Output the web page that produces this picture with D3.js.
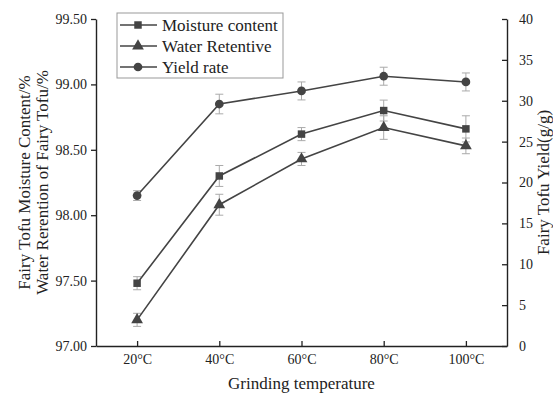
<!DOCTYPE html>
<html>
<head>
<meta charset="utf-8">
<script src="https://cdn.jsdelivr.net/npm/d3@7"></script>
<style>
body { margin: 0; background: #fff; }
text { font-family: "Liberation Serif", "Times New Roman", serif; fill: #222; }
</style>
</head>
<body>
<script>
// grinding temperatures (x categories)
var temps = [20, 40, 60, 80, 100];
var tempLabels = ["20°C", "40°C", "60°C", "80°C", "100°C"];

// left axis series (%)
var moisture = [97.48, 98.30, 98.62, 98.80, 98.66];
var moistureErr = [0.05, 0.08, 0.05, 0.08, 0.10];
var retention = [97.20, 98.08, 98.43, 98.67, 98.53];
var retentionErr = [0.05, 0.08, 0.05, 0.09, 0.06];

// right axis series (g/g)
var yieldRate = [18.4, 29.6, 31.2, 33.0, 32.3];
var yieldErr = [0.6, 1.2, 1.1, 1.1, 1.1];

var leftTicks = [97.0, 97.5, 98.0, 98.5, 99.0, 99.5];
var rightTicks = [0, 5, 10, 15, 20, 25, 30, 35, 40];

window.onload = draw;

function draw(){
    var width = 553, height = 394;
    var margin = {left: 96, right: 46, top: 19, bottom: 48};
    var x0 = margin.left, x1 = width - margin.right,
        y0 = height - margin.bottom, y1 = margin.top;

    var svg = d3.select("body").append("svg")
        .attr("width", width)
        .attr("height", height);

    var x = d3.scaleLinear().domain([10, 110]).range([x0, x1]);
    var yL = d3.scaleLinear().domain([97, 99.5]).range([y0, y1]);
    var yR = d3.scaleLinear().domain([0, 40]).range([y0, y1]);

    var ink = "#444";

    //bottom axis, ticks pointing inward
    var xAxis = svg.append("g")
        .attr("transform", "translate(0," + y0 + ")")
        .call(d3.axisBottom(x).tickValues(temps)
            .tickFormat(function(d, i){ return tempLabels[i]; })
            .tickSizeInner(-5).tickSizeOuter(0).tickPadding(8));

    var yAxisL = svg.append("g")
        .attr("transform", "translate(" + x0 + ",0)")
        .call(d3.axisLeft(yL).tickValues(leftTicks)
            .tickFormat(d3.format(".2f"))
            .tickSizeInner(5).tickSizeOuter(0).tickPadding(4));

    //right axis: ticks on the inside, labels outside
    var yAxisR = svg.append("g")
        .attr("transform", "translate(" + x1 + ",0)")
        .call(d3.axisRight(yR).tickValues(rightTicks)
            .tickSizeInner(-5).tickSizeOuter(0).tickPadding(12));

    [xAxis, yAxisL, yAxisR].forEach(function(a){
        a.select(".domain").attr("stroke", "#222").attr("stroke-width", 1.4);
        a.selectAll(".tick line").attr("stroke", "#222").attr("stroke-width", 1.3);
        a.selectAll(".tick text")
            .style("font-family", "Liberation Serif")
            .style("font-size", "14px")
            .attr("fill", "#222");
    });

    //axis titles
    svg.append("text")
        .attr("x", (x0 + x1) / 2).attr("y", 389)
        .attr("text-anchor", "middle")
        .style("font-size", "17px")
        .text("Grinding temperature");

    var lt = svg.append("text")
        .attr("transform", "translate(30," + (y0 + y1) / 2 + ") rotate(-90)")
        .attr("text-anchor", "middle")
        .style("font-size", "17px");
    lt.append("tspan").attr("x", 0).attr("y", 0).text("Fairy Tofu Moisture Content/%");
    lt.append("tspan").attr("x", 0).attr("y", 18).text("Water Rerention of Fairy Tofu/%");

    svg.append("text")
        .attr("transform", "translate(549," + (y0 + y1) / 2 + ") rotate(-90)")
        .attr("text-anchor", "middle")
        .style("font-size", "17px")
        .text("Fairy Tofu Yield(g/g)");

    var series = [
        {name: "Moisture content", values: moisture, err: moistureErr, y: yL, shape: d3.symbolSquare, size: 56},
        {name: "Water Retentive", values: retention, err: retentionErr, y: yL, shape: d3.symbolTriangle, size: 60},
        {name: "Yield rate", values: yieldRate, err: yieldErr, y: yR, shape: d3.symbolCircle, size: 60}
    ];

    series.forEach(function(s){
        var g = svg.append("g");
        var pts = temps.map(function(t, i){
            return {x: t, v: s.values[i], e: s.err[i]};
        });

        //error bars
        var eb = g.selectAll(".err").data(pts).enter().append("g")
            .attr("stroke", "#aaa").attr("stroke-width", 1);
        eb.append("line")
            .attr("x1", function(d){ return x(d.x); })
            .attr("x2", function(d){ return x(d.x); })
            .attr("y1", function(d){ return s.y(d.v - d.e); })
            .attr("y2", function(d){ return s.y(d.v + d.e); });
        [-1, 1].forEach(function(sign){
            eb.append("line")
                .attr("x1", function(d){ return x(d.x) - 4; })
                .attr("x2", function(d){ return x(d.x) + 4; })
                .attr("y1", function(d){ return s.y(d.v + sign * d.e); })
                .attr("y2", function(d){ return s.y(d.v + sign * d.e); });
        });

        g.append("path")
            .datum(pts)
            .attr("fill", "none")
            .attr("stroke", ink)
            .attr("stroke-width", 1.6)
            .attr("d", d3.line()
                .x(function(d){ return x(d.x); })
                .y(function(d){ return s.y(d.v); }));

        g.selectAll(".mark").data(pts).enter().append("path")
            .attr("transform", function(d){ return "translate(" + x(d.x) + "," + s.y(d.v) + ")"; })
            .attr("d", d3.symbol().type(s.shape).size(s.size))
            .attr("fill", ink);
    });

    //legend
    var legend = svg.append("g").attr("transform", "translate(117,13)");
    legend.append("rect")
        .attr("x", 0).attr("y", 0)
        .attr("width", 166).attr("height", 65)
        .attr("fill", "#fff")
        .attr("stroke", "#999")
        .attr("stroke-width", 1);
    series.forEach(function(s, i){
        var row = legend.append("g").attr("transform", "translate(0," + (12 + i * 21) + ")");
        row.append("line")
            .attr("x1", 3).attr("x2", 40)
            .attr("stroke", ink).attr("stroke-width", 1.6);
        row.append("path")
            .attr("transform", "translate(21,0)")
            .attr("d", d3.symbol().type(s.shape).size(s.size))
            .attr("fill", ink);
        row.append("text")
            .attr("x", 45).attr("y", 6)
            .style("font-size", "17px")
            .text(s.name);
    });
}
</script>
</body>
</html>
